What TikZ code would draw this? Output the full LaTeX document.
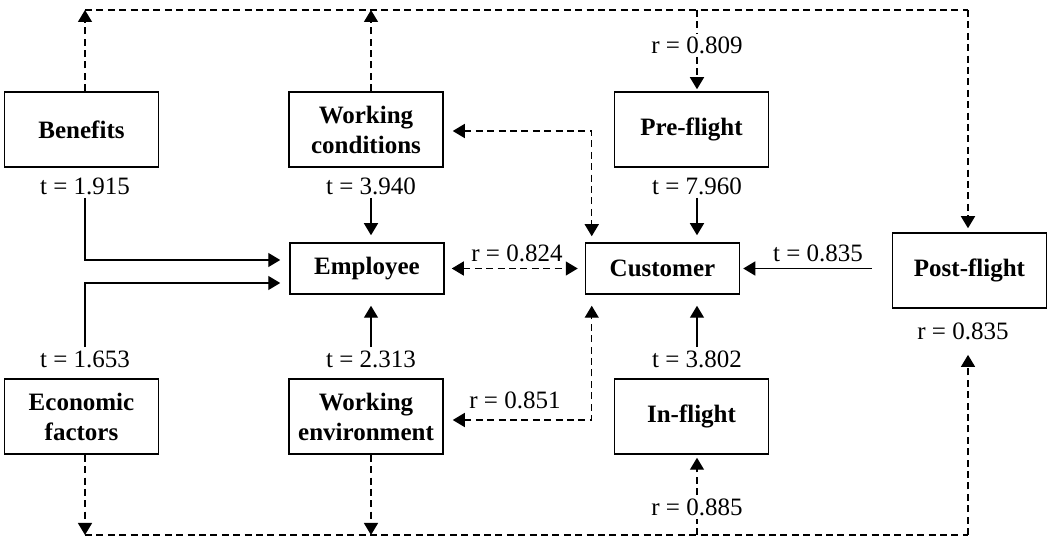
\documentclass[tikz,border=0pt]{standalone}
\usepackage{fontspec}
\setmainfont{Liberation Serif}
\usetikzlibrary{arrows.meta,calc}

\begin{document}
\begin{tikzpicture}[x=0.5pt,y=-0.5pt,
		>={Triangle[length=6pt,width=7pt]},
		box/.style={draw,line width=0.75pt,minimum width=77pt,minimum height=37.5pt,align=center,inner sep=0,font=\fontsize{12.5}{15}\selectfont\bfseries},
		lab/.style={inner sep=1.5pt,font=\fontsize{12.5}{15}\selectfont},
		ln/.style={line width=0.7pt},
		dsh/.style={line width=0.7pt,dash pattern=on 3.5pt off 2.2pt}
	]
	\useasboundingbox (0,0) rectangle (1050,539);
	% boxes
	\node[box] (ben)   at (81.5,129.5) {Benefits};
	\node[box] (wcond) at (366,129.5)  {Working\\conditions};
	\node[box] (pre)   at (691.5,129.5) {Pre-flight};
	\node[box,minimum height=25.5pt] (emp)  at (367,268.5) {Employee};
	\node[box,minimum height=25.5pt] (cust) at (662.5,268.5) {Customer};
	\node[box] (post)  at (969.5,270.5) {Post-flight};
	\node[box] (econ)  at (81.5,416.5) {Economic\\factors};
	\node[box] (wenv)  at (366,416.5)  {Working\\environment};
	\node[box] (infl)  at (691.5,416.5) {In-flight};
	% labels
	\node[lab] (tben)  at (85,186)  {t = 1.915};
	\node[lab] (twc)   at (371,186) {t = 3.940};
	\node[lab] (tpre)  at (697,186) {t = 7.960};
	\node[lab] (tecon) at (85,359)  {t = 1.653};
	\node[lab] (twe)   at (371,359) {t = 2.313};
	\node[lab] (tin)   at (697,359) {t = 3.802};
	\node[lab] (tpost) at (818,253) {t = 0.835};
	\node[lab] (rpre)  at (697,45)  {r = 0.809};
	\node[lab] (rin)   at (697,507) {r = 0.885};
	\node[lab] (rpost) at (963,331) {r = 0.835};
	\node[lab] (remp)  at (517,253) {r = 0.824};
	\node[lab] (rwe)   at (515,400) {r = 0.851};
	% corners of the outer dashed frame
	\coordinate (topL) at (85,10);
	\coordinate (topM) at (371,10);
	\coordinate (topR) at (968,10);
	\coordinate (botL) at (85,535);
	\coordinate (botM) at (371,535);
	\coordinate (botR) at (968,535);
	% top frame
	\draw[dsh,->] (topL |- ben.north) -- (topL);
	\draw[dsh,->] (topM |- wcond.north) -- (topM);
	\draw[dsh] (topL) -- (topR);
	\draw[dsh,->,shorten >=2pt] (topR) -- (topR |- post.north);
	\draw[dsh] (rpre.north |- topL) -- (rpre.north);
	\draw[dsh,->,shorten >=1pt] (rpre.south) -- (rpre.south |- pre.north);
	% bottom frame
	\draw[dsh,->] (botL |- econ.south) -- (botL);
	\draw[dsh,->] (botM |- wenv.south) -- (botM);
	\draw[dsh] (botL) -- (botR);
	\draw[dsh,->,shorten >=6pt] (botR) -- (botR |- rpost.south);
	\draw[dsh] (rin.south |- botL) -- (rin.south);
	\draw[dsh,->,shorten >=1.5pt] (rin.north) -- (rin.north |- infl.south);
	% paths to Employee
	\draw[ln,->,shorten >=4.5pt] (tben.south) |- ([yshift=4.25pt]emp.west);
	\draw[ln,->,shorten >=4.5pt] (tecon.north) |- ([yshift=-7.25pt]emp.west);
	\draw[ln,->,shorten >=3.5pt] (twc.south) -- (twc.south |- emp.north);
	\draw[ln,->,shorten >=5.5pt] (twe.north) -- (twe.north |- emp.south);
	% paths to Customer
	\draw[ln,->,shorten >=3.5pt] (tpre.south) -- (tpre.south |- cust.north);
	\draw[ln,->,shorten >=5.5pt] (tin.north) -- (tin.north |- cust.south);
	\draw[ln,->,shorten <=10pt,shorten >=1.5pt] (post.west |- cust.east) -- (cust.east);
	% correlations
	\draw[dsh,<->,shorten <=3.5pt,shorten >=3.5pt] (emp.east) -- (cust.west);
	\draw[dsh,<->,shorten <=4.5pt,shorten >=3pt] ([yshift=-0.75pt]wcond.east) -| ([xshift=3.5pt]cust.north west);
	\draw[dsh,<->,shorten <=4.5pt,shorten >=5.5pt] ([yshift=-1.75pt]wenv.east) -| ([xshift=3.5pt]cust.south west);
\end{tikzpicture}
\end{document}
